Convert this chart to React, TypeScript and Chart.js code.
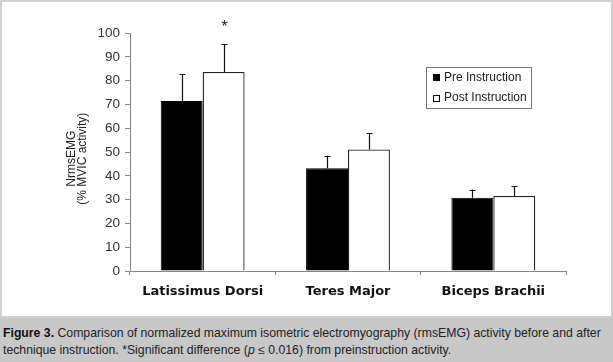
import React, { useEffect, useRef } from 'react';
import { Chart, registerables } from 'chart.js';

Chart.register(...registerables);

// ---- data ----
const categories = ['Latissimus Dorsi', 'Teres Major', 'Biceps Brachii'];
const seriesLabels = ['Pre Instruction', 'Post Instruction'];
const preValues = [71.4, 43.2, 30.8];
const postValues = [83.6, 51.1, 31.5];
const preErrors = [11.4, 5.2, 3.4];
const postErrors = [11.7, 6.8, 4.2];
const postSignificance = ['*', '', ''];
const yMin = 0;
const yMax = 100;
const yStep = 10;
const yTitleLines = ['NrmsEMG', '(% MVIC activity)'];

const SANS = "'Liberation Sans', Arial, Helvetica, sans-serif";

const errorBarPlugin = {
  id: 'errorBars',
  afterDatasetsDraw(chart: any) {
    const { ctx } = chart;
    const yScale = chart.scales.y;
    chart.data.datasets.forEach((ds: any, di: number) => {
      const meta = chart.getDatasetMeta(di);
      meta.data.forEach((bar: any, i: number) => {
        const v = ds.data[i];
        const err = ds.errors ? ds.errors[i] : 0;
        const top = yScale.getPixelForValue(v + err);
        const x = Math.round(bar.x) + 0.5;
        ctx.save();
        ctx.strokeStyle = '#111';
        ctx.lineWidth = 1.2;
        ctx.beginPath();
        ctx.moveTo(x, bar.y);
        ctx.lineTo(x, top);
        ctx.moveTo(x - 3, Math.round(top) + 0.5);
        ctx.lineTo(x + 3, Math.round(top) + 0.5);
        ctx.stroke();
        const mark = ds.marks ? ds.marks[i] : '';
        if (mark) {
          ctx.fillStyle = '#222';
          ctx.font = `16px ${SANS}`;
          ctx.textAlign = 'center';
          ctx.textBaseline = 'middle';
          ctx.fillText(mark, x, top - 17);
        }
        ctx.restore();
      });
    });
  },
};

const boxLegendPlugin = {
  id: 'boxLegend',
  afterDraw(chart: any) {
    const { ctx } = chart;
    const left = 424;
    const top = 65;
    const w = 105;
    const h = 41;
    ctx.save();
    ctx.fillStyle = '#fff';
    ctx.fillRect(left, top, w, h);
    ctx.strokeStyle = '#777';
    ctx.lineWidth = 1;
    ctx.strokeRect(left + 0.5, top + 0.5, w, h);
    chart.data.datasets.forEach((ds: any, i: number) => {
      const cy = top + 10 + i * 20.6;
      ctx.fillStyle = ds.backgroundColor;
      ctx.fillRect(431, Math.round(cy - 3), 7, 7);
      ctx.strokeStyle = '#000';
      ctx.lineWidth = 1;
      ctx.strokeRect(431.5, Math.round(cy - 3) + 0.5, 6, 6);
      ctx.fillStyle = '#222';
      ctx.font = `12px ${SANS}`;
      ctx.textAlign = 'left';
      ctx.textBaseline = 'middle';
      ctx.fillText(ds.label, 442, cy + 0.5);
    });
    ctx.restore();
  },
};

function ChartPanel() {
  const ref = useRef<HTMLCanvasElement>(null);
  useEffect(() => {
    if (!ref.current) return;
    const chart = new Chart(ref.current, {
      type: 'bar',
      data: {
        labels: categories,
        datasets: [
          {
            label: seriesLabels[0],
            data: preValues,
            backgroundColor: '#000',
            borderColor: '#000',
            borderWidth: 1,
            errors: preErrors,
          } as any,
          {
            label: seriesLabels[1],
            data: postValues,
            backgroundColor: '#fff',
            borderColor: '#222',
            borderWidth: 1.3,
            errors: postErrors,
            marks: postSignificance,
          } as any,
        ],
      },
      options: {
        responsive: false,
        animation: false,
        events: [],
        layout: { padding: { top: 31, right: 45, bottom: 0, left: 0 } },
        datasets: { bar: { categoryPercentage: 0.577, barPercentage: 1 } },
        plugins: { legend: { display: false }, tooltip: { enabled: false } },
        scales: {
          x: {
            grid: { display: true, drawOnChartArea: false, drawTicks: true, tickLength: 4, color: '#888', offset: true },
            border: { display: true, color: '#888', width: 1 },
            ticks: { color: '#111', padding: 9, font: { family: "'DejaVu Sans', Verdana, sans-serif", weight: 'bold', size: 13 } },
            afterFit(scale: any) { scale.height = 45; },
          },
          y: {
            min: yMin,
            max: yMax,
            ticks: { stepSize: yStep, color: '#333', padding: 5, font: { family: SANS, size: 13.5 } },
            grid: { display: true, drawOnChartArea: false, drawTicks: true, tickLength: 5, color: '#888' },
            border: { display: true, color: '#888', width: 1 },
            title: {
              display: true,
              text: yTitleLines.map((s) => s + '    '),
              color: '#222',
              font: { family: SANS, size: 12, lineHeight: 0.92 },
              padding: { top: 64, bottom: 0 },
            },
            afterFit(scale: any) { scale.width = 128; },
          },
        },
      } as any,
      plugins: [errorBarPlugin, boxLegendPlugin],
    });
    return () => chart.destroy();
  }, []);
  return <canvas ref={ref} width={609} height={314} style={{ display: 'block' }} />;
}

export default function App() {
  useEffect(() => {
    document.body.style.margin = '0';
  }, []);
  return (
    <div style={{ position: 'relative', width: 613, height: 362, background: '#c8c8c8', overflow: 'hidden' }}>
      <div style={{ position: 'absolute', left: 0, top: 0, width: 613, height: 318, background: '#d0d0d0' }} />
      <div style={{ position: 'absolute', left: 2, top: 2, width: 609, height: 314, background: '#fff' }}>
        <ChartPanel />
      </div>
      <div
        style={{
          position: 'absolute',
          left: 3,
          top: 324.5,
          width: 610,
          fontFamily: SANS,
          fontSize: 12.25,
          lineHeight: '17px',
          color: '#222',
          whiteSpace: 'nowrap',
        }}
      >
        <div>
          <b style={{ color: '#111' }}>Figure 3.</b> Comparison of normalized maximum isometric electromyography (rmsEMG) activity before and after
        </div>
        <div>
          technique instruction. *Significant difference (<i>p</i> ≤ 0.016) from preinstruction activity.
        </div>
      </div>
    </div>
  );
}
